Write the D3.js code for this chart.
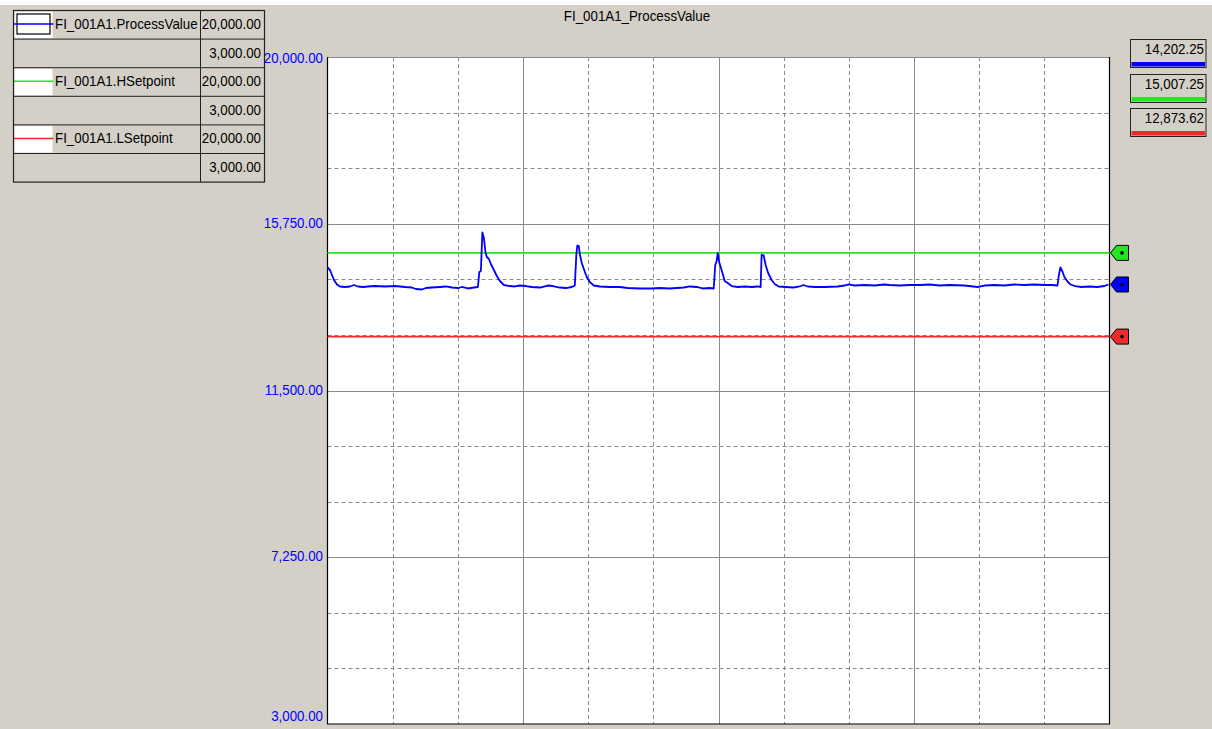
<!DOCTYPE html>
<html>
<head>
<meta charset="utf-8">
<script src="https://cdn.jsdelivr.net/npm/d3@7"></script>
<style>
  html, body { margin: 0; padding: 0; background: #d4d0c8; }
  svg { display: block; }
  text { font-family: "Liberation Sans", Arial, sans-serif; }
</style>
</head>
<body>
<svg id="chart" width="1212" height="729"></svg>
<script>
// ---------------- data ----------------
const chartTitle = "FI_001A1_ProcessValue";
const seriesNames = ["FI_001A1.ProcessValue", "FI_001A1.HSetpoint", "FI_001A1.LSetpoint"];
const seriesColors = ["#0000ff", "#22e622", "#ee2a2a"];
const seriesMax = [20000, 20000, 20000];
const seriesMin = [3000, 3000, 3000];
const currentValues = [14202.25, 15007.25, 12873.62];
const yTickValues = [3000, 7250, 11500, 15750, 20000];
const timeSpan = [0, 720]; // seconds, 12 divisions of 60 s

// process value samples (time in s, value)
const pvTimes = [0, 2.3, 4.1, 6, 8.7, 11.5, 16.1, 20.7, 24.4, 28.1, 32.7, 37.3, 43.7, 52.9, 62.1, 71.3, 77.7, 81.4, 86.9, 90.6,
  96.1, 103.5, 109, 114.5, 120.1, 123.7, 129.3, 134.8, 138.5, 139.8, 141.2, 142.6, 144, 145.4, 146.7, 148.6, 150.4, 153.2, 155.9, 158.7,
  162.4, 167.9, 172.5, 177.1, 182.6, 188.1, 195.5, 202.9, 207.5, 213.9, 219.4, 224.9, 227.7, 229.1, 230, 231.4, 232.3, 234.1, 236, 238.7,
  241.5, 245.2, 250.7, 259.9, 269.1, 276.5, 287.5, 298.5, 305.9, 315.1, 328, 333.5, 339.9, 345.5, 351.9, 355.6, 357, 358.3, 359.3, 360.6,
  362, 363.9, 365.7, 368.5, 372.1, 377.7, 384.1, 390.5, 396.1, 398.8, 399.7, 401.6, 403.4, 405.7, 408.9, 411.7, 415.4, 421.8, 429.2, 434.7,
  438.4, 442.1, 448.5, 457.7, 469.7, 476.1, 479.8, 485.3, 494.5, 503.7, 512.9, 517.5, 526.7, 535.9, 545.1, 554.3, 563.5, 572.7, 586.5, 598.5,
  604.9, 614.1, 623.3, 632.5, 641.7, 650.9, 660.1, 666.5, 672.1, 673.4, 674.8, 676.7, 678.5, 681.3, 684, 688.6, 694.1, 701.5, 708.9, 715.3, 719];
const pvValues = [14635, 14571, 14444, 14316, 14202, 14151, 14138, 14151, 14189, 14151, 14138, 14151, 14163, 14151, 14163, 14138, 14125, 14087, 14074, 14112,
  14125, 14138, 14151, 14125, 14112, 14138, 14100, 14125, 14138, 14520, 14546, 15527, 15387, 15030, 14903, 14852, 14724, 14571, 14418, 14291,
  14189, 14163, 14151, 14176, 14163, 14138, 14125, 14176, 14163, 14125, 14112, 14138, 14176, 14954, 15196, 15183, 14980, 14750, 14597, 14393,
  14265, 14176, 14151, 14138, 14138, 14112, 14100, 14100, 14112, 14100, 14125, 14151, 14138, 14100, 14112, 14100, 14699, 14801, 15005, 14776,
  14648, 14469, 14291, 14240, 14163, 14138, 14151, 14138, 14151, 14138, 14954, 14941, 14699, 14495, 14316, 14214, 14151, 14138, 14125, 14151,
  14189, 14151, 14138, 14138, 14151, 14176, 14202, 14176, 14189, 14176, 14202, 14189, 14176, 14189, 14189, 14202, 14176, 14189, 14176, 14138,
  14176, 14189, 14176, 14202, 14189, 14202, 14189, 14189, 14176, 14444, 14635, 14533, 14393, 14278, 14202, 14163, 14138, 14151, 14138, 14163, 14202];
const hSetpoint = 15007.25;
const lSetpoint = 12873.62;

// ---------------- layout ----------------
const svg = d3.select("#chart");
const W = 1212, H = 729;
const plot = { left: 327.5, right: 1109.5, top: 57, bottom: 724 };
const fmt = d3.format(",.2f");
const FS = 15.5, SX = 0.86;

// condensed text helper
function txt(parent, x, y, str, anchor, fill) {
  return parent.append("text")
    .attr("transform", `translate(${x},${y}) scale(${SX},1)`)
    .attr("text-anchor", anchor || "start")
    .attr("font-size", FS).attr("fill", fill || "#000").text(str);
}

svg.append("rect").attr("width", W).attr("height", H).attr("fill", "#d4d0c8");
svg.append("rect").attr("width", W).attr("height", 5).attr("fill", "#ffffff");

const x = d3.scaleLinear().domain(timeSpan).range([plot.left, plot.right]);
const y = d3.scaleLinear().domain([seriesMin[0], seriesMax[0]]).range([plot.bottom, plot.top]);

// title
txt(svg, 637, 20.7, chartTitle, "middle");

// plot background
svg.append("rect").attr("x", plot.left).attr("y", plot.top)
  .attr("width", plot.right - plot.left).attr("height", plot.bottom - plot.top).attr("fill", "#ffffff");

// grid
const nDiv = 12;
const yGrid = d3.range(1, nDiv + 1).map(k => seriesMin[0] + k * (seriesMax[0] - seriesMin[0]) / nDiv);
const xGrid = d3.range(1, nDiv).map(k => timeSpan[0] + k * (timeSpan[1] - timeSpan[0]) / nDiv);
const g = svg.append("g");
g.selectAll("line.hg").data(yGrid).join("line")
  .attr("x1", plot.left).attr("x2", plot.right)
  .attr("y1", d => Math.round(y(d)) + 0.5).attr("y2", d => Math.round(y(d)) + 0.5)
  .attr("stroke", "#8a8a8a").attr("stroke-width", 1)
  .attr("stroke-dasharray", (d, i) => ((i + 1) % 3 === 0) ? null : "4,3");
g.selectAll("line.vg").data(xGrid).join("line")
  .attr("y1", plot.top).attr("y2", plot.bottom)
  .attr("x1", d => Math.round(x(d)) + 0.5).attr("x2", d => Math.round(x(d)) + 0.5)
  .attr("stroke", "#8a8a8a").attr("stroke-width", 1)
  .attr("stroke-dasharray", (d, i) => ((i + 1) % 3 === 0) ? null : "4,3");

// borders (left, bottom, right)
svg.append("path")
  .attr("d", `M${plot.left},${plot.top}V${plot.bottom}H${plot.right}V${plot.top}`)
  .attr("fill", "none").attr("stroke", "#000").attr("stroke-width", 1.2);

// y axis labels
const yAxis = d3.axisLeft(y).tickValues(yTickValues).tickFormat(fmt).tickSize(0).tickPadding(0);
const ya = svg.append("g").attr("transform", `translate(${plot.left},0)`).call(yAxis);
ya.select(".domain").remove();
ya.selectAll("text")
  .attr("x", null).attr("dy", null)
  .attr("fill", "#0000ff").attr("font-size", FS)
  .attr("font-family", "'Liberation Sans', Arial, sans-serif")
  .attr("transform", d => {
    const off = d === seriesMax[0] ? 5.5 : (d === seriesMin[0] ? -3.5 : 3.5);
    return `translate(-4.5,${off}) scale(${SX},1)`;
  });

// series
const line = d3.line().x(d => x(d[0])).y(d => y(d[1]));
const pvData = pvTimes.map((t, i) => [t, pvValues[i]]);
const setData = [hSetpoint, lSetpoint].map(v => timeSpan.map(t => [t, v]));
svg.append("path").datum(setData[0]).attr("d", line).attr("fill", "none")
  .attr("stroke", seriesColors[1]).attr("stroke-width", 1.8);
svg.append("path").datum(setData[1]).attr("d", line).attr("fill", "none")
  .attr("stroke", seriesColors[2]).attr("stroke-width", 1.8);
svg.append("path").datum(pvData).attr("d", line).attr("fill", "none")
  .attr("stroke", seriesColors[0]).attr("stroke-width", 1.8).attr("stroke-linejoin", "round");

// right-side markers
const mk = svg.append("g");
currentValues.forEach((v, i) => {
  const yy = y(v);
  const x0 = plot.right + 1;
  mk.append("path")
    .attr("d", `M${x0},${yy}L${x0 + 6},${yy - 7.5}H${x0 + 18}V${yy + 7.5}H${x0 + 6}Z`)
    .attr("fill", seriesColors[i]).attr("stroke", "#000").attr("stroke-width", 1);
  mk.append("circle").attr("cx", x0 + 11.5).attr("cy", yy).attr("r", 1.8).attr("fill", "#000");
});

// current value boxes
const boxTop = [39.5, 74.5, 108.5];
const vb = svg.append("g");
currentValues.forEach((v, i) => {
  const bx = 1130.5, bw = 75.5, bh = 28;
  const by = boxTop[i];
  vb.append("rect").attr("x", bx).attr("y", by).attr("width", bw).attr("height", bh)
    .attr("fill", "#d4d0c8").attr("stroke", "#222").attr("stroke-width", 1);
  vb.append("rect").attr("x", bx + 1).attr("y", by + bh - 5.5).attr("width", bw - 2).attr("height", 4.5)
    .attr("fill", seriesColors[i]);
  txt(vb, bx + bw - 2, by + 14, fmt(v), "end");
});

// legend table
const lg = svg.append("g");
const tL = 13.5, tR = 264.5, tDiv = 200.5, tTop = 10.5, rowH = 28.6;
const nRows = seriesNames.length * 2;
seriesNames.forEach((name, i) => {
  const rTop = tTop + i * 2 * rowH;
  lg.append("rect").attr("x", tL + 1).attr("y", rTop + 1).attr("width", 38).attr("height", rowH - 2).attr("fill", "#ffffff");
  if (i === 0) {
    lg.append("rect").attr("x", tL + 3.5).attr("y", rTop + 3.5).attr("width", 33).attr("height", 20)
      .attr("fill", "none").attr("stroke", "#000").attr("stroke-width", 1.2);
  }
  lg.append("line").attr("x1", tL).attr("x2", tL + 40).attr("y1", rTop + 13.5).attr("y2", rTop + 13.5)
    .attr("stroke", seriesColors[i]).attr("stroke-width", 1.5);
  txt(lg, tL + 41.5, rTop + 18.5, name, "start");
  txt(lg, tR - 3.5, rTop + 18.5, fmt(seriesMax[i]), "end");
  txt(lg, tR - 3.5, rTop + rowH + 18.5, fmt(seriesMin[i]), "end");
});
d3.range(1, nRows).forEach(k => {
  lg.append("line").attr("x1", tL).attr("x2", tR)
    .attr("y1", tTop + k * rowH).attr("y2", tTop + k * rowH).attr("stroke", "#222").attr("stroke-width", 1);
});
lg.append("line").attr("x1", tDiv).attr("x2", tDiv).attr("y1", tTop).attr("y2", tTop + nRows * rowH)
  .attr("stroke", "#222").attr("stroke-width", 1);
lg.append("rect").attr("x", tL).attr("y", tTop).attr("width", tR - tL).attr("height", nRows * rowH)
  .attr("fill", "none").attr("stroke", "#222").attr("stroke-width", 1.2);
</script>
</body>
</html>
